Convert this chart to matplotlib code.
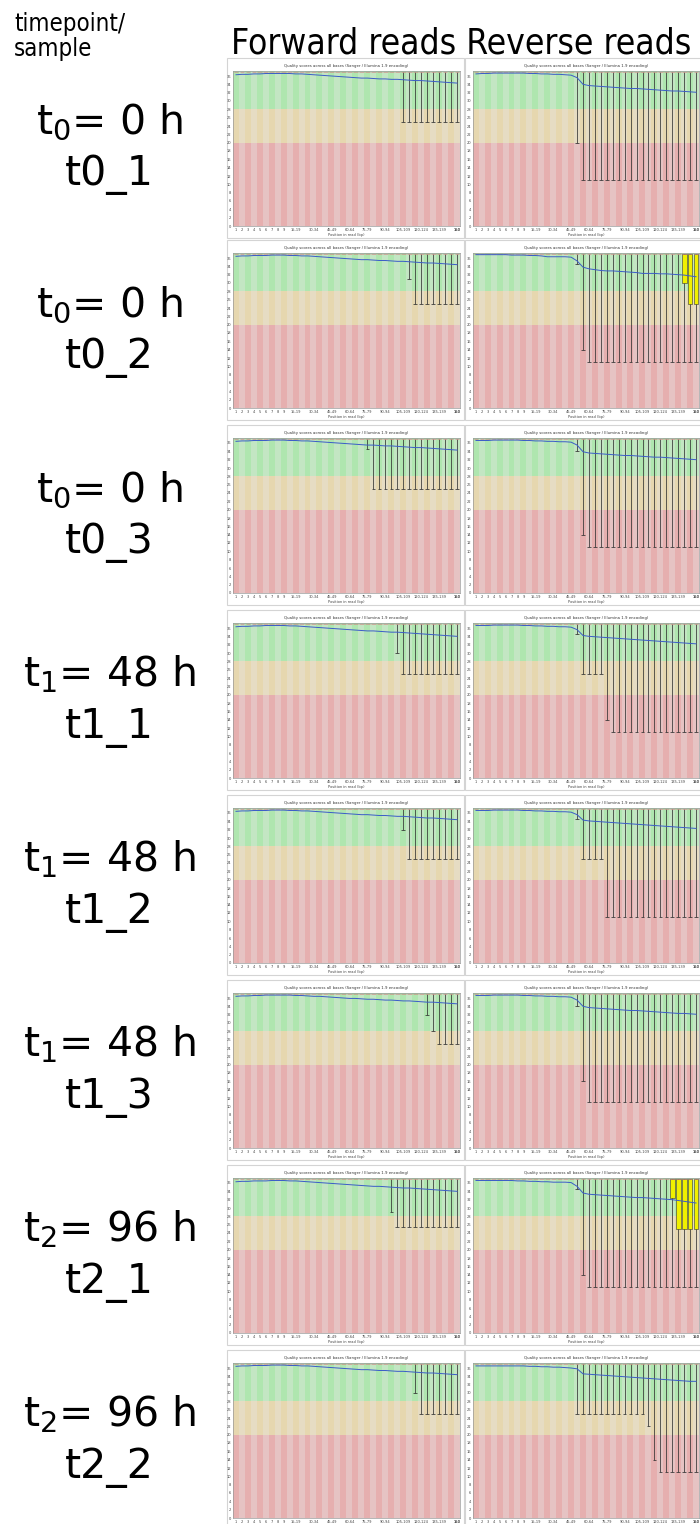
import numpy as np
import matplotlib
matplotlib.use('Agg')
import matplotlib.pyplot as plt
from matplotlib.patches import Rectangle

W, H = 700, 1524

# position bins of the per-base quality plot
bin_labels = [str(i) for i in range(1, 10)] + ['%d-%d' % (s, s + 4) for s in range(10, 150, 5)] + ['150']
tick_idx = list(range(9)) + list(range(10, 38, 3)) + [37]
y_ticks = list(range(0, 37, 2))

timepoints = ['t$_0$= 0 h'] * 3 + ['t$_1$= 48 h'] * 3 + ['t$_2$= 96 h'] * 2
samples = ['t0_1', 't0_2', 't0_3', 't1_1', 't1_2', 't1_3', 't2_1', 't2_2']

# mean quality per bin, forward reads
fwd_mean = [
    [36.3, 36.4, 36.4, 36.5, 36.5, 36.6, 36.6, 36.6, 36.6, 36.6, 36.5, 36.5, 36.4, 36.3, 36.2, 36.1, 36.0, 35.9, 35.8,
     35.7, 35.6, 35.5, 35.5, 35.4, 35.3, 35.3, 35.2, 35.2, 35.1, 35.0, 34.9, 34.9, 34.8, 34.7, 34.6, 34.5, 34.4, 34.3],
    [36.4, 36.5, 36.5, 36.6, 36.6, 36.6, 36.7, 36.7, 36.7, 36.6, 36.6, 36.5, 36.5, 36.4, 36.3, 36.2, 36.1, 36.0, 35.9,
     35.8, 35.7, 35.6, 35.6, 35.5, 35.4, 35.4, 35.3, 35.2, 35.2, 35.1, 35.0, 34.9, 34.8, 34.8, 34.7, 34.6, 34.5, 34.4],
    [36.4, 36.5, 36.5, 36.6, 36.6, 36.6, 36.7, 36.7, 36.7, 36.6, 36.6, 36.5, 36.5, 36.4, 36.3, 36.2, 36.1, 36.0, 35.9,
     35.8, 35.7, 35.6, 35.5, 35.5, 35.4, 35.3, 35.3, 35.2, 35.1, 35.0, 34.9, 34.9, 34.8, 34.7, 34.6, 34.5, 34.4, 34.3],
    [36.3, 36.4, 36.4, 36.5, 36.5, 36.6, 36.6, 36.6, 36.6, 36.5, 36.5, 36.4, 36.3, 36.2, 36.1, 36.0, 35.9, 35.8, 35.7,
     35.6, 35.5, 35.4, 35.3, 35.3, 35.2, 35.1, 35.0, 35.0, 34.9, 34.8, 34.7, 34.6, 34.5, 34.4, 34.3, 34.2, 34.1, 34.0],
    [36.4, 36.5, 36.5, 36.6, 36.6, 36.6, 36.7, 36.7, 36.7, 36.6, 36.6, 36.5, 36.5, 36.4, 36.3, 36.2, 36.1, 36.0, 35.9,
     35.8, 35.7, 35.6, 35.6, 35.5, 35.4, 35.4, 35.3, 35.2, 35.2, 35.1, 35.0, 34.9, 34.8, 34.8, 34.7, 34.6, 34.5, 34.4],
    [36.4, 36.5, 36.5, 36.6, 36.6, 36.7, 36.7, 36.7, 36.7, 36.7, 36.6, 36.6, 36.5, 36.4, 36.4, 36.3, 36.2, 36.1, 36.0,
     35.9, 35.9, 35.8, 35.7, 35.7, 35.6, 35.5, 35.5, 35.4, 35.3, 35.3, 35.2, 35.1, 35.0, 35.0, 34.9, 34.8, 34.7, 34.6],
    [36.3, 36.4, 36.4, 36.5, 36.5, 36.5, 36.6, 36.6, 36.6, 36.5, 36.5, 36.4, 36.3, 36.2, 36.1, 36.0, 35.9, 35.8, 35.7,
     35.6, 35.5, 35.4, 35.3, 35.2, 35.2, 35.1, 35.0, 34.9, 34.8, 34.8, 34.7, 34.6, 34.5, 34.4, 34.3, 34.2, 34.1, 34.0],
    [36.4, 36.5, 36.5, 36.6, 36.6, 36.6, 36.7, 36.7, 36.7, 36.6, 36.6, 36.5, 36.5, 36.4, 36.3, 36.2, 36.1, 36.0, 35.9,
     35.8, 35.7, 35.6, 35.6, 35.5, 35.4, 35.4, 35.3, 35.2, 35.2, 35.1, 35.0, 34.9, 34.8, 34.8, 34.7, 34.6, 34.5, 34.4],
]

# mean quality per bin, reverse reads
rev_mean = [
    [36.5, 36.6, 36.6, 36.7, 36.7, 36.7, 36.7, 36.7, 36.7, 36.6, 36.6, 36.5, 36.5, 36.4, 36.4, 36.3, 36.2, 35.6, 34.0,
     33.7, 33.6, 33.5, 33.4, 33.3, 33.2, 33.1, 33.0, 33.0, 32.9, 32.8, 32.7, 32.6, 32.5, 32.4, 32.4, 32.3, 32.2, 32.1],
    [36.8, 36.8, 36.8, 36.8, 36.8, 36.8, 36.7, 36.7, 36.7, 36.6, 36.6, 36.5, 36.3, 36.3, 36.3, 36.3, 36.2, 35.3, 33.8,
     33.4, 33.2, 33.0, 32.9, 32.9, 32.8, 32.7, 32.6, 32.5, 32.3, 32.3, 32.3, 32.2, 32.2, 32.1, 32.0, 31.9, 31.7, 31.5],
    [36.6, 36.6, 36.6, 36.7, 36.7, 36.7, 36.7, 36.7, 36.6, 36.6, 36.5, 36.5, 36.4, 36.4, 36.3, 36.3, 36.2, 35.5, 33.9,
     33.6, 33.5, 33.4, 33.3, 33.2, 33.1, 33.0, 33.0, 32.9, 32.8, 32.7, 32.6, 32.6, 32.5, 32.4, 32.3, 32.2, 32.1, 32.0],
    [36.6, 36.6, 36.6, 36.7, 36.7, 36.7, 36.7, 36.7, 36.6, 36.6, 36.5, 36.5, 36.4, 36.4, 36.3, 36.3, 36.2, 35.6, 34.2,
     34.0, 33.9, 33.8, 33.7, 33.6, 33.5, 33.4, 33.3, 33.2, 33.1, 33.0, 32.9, 32.8, 32.7, 32.6, 32.5, 32.4, 32.3, 32.2],
    [36.6, 36.6, 36.6, 36.7, 36.7, 36.7, 36.7, 36.7, 36.6, 36.6, 36.5, 36.5, 36.4, 36.4, 36.3, 36.3, 36.2, 35.6, 34.3,
     34.1, 34.0, 33.9, 33.8, 33.7, 33.6, 33.5, 33.4, 33.3, 33.2, 33.1, 33.0, 32.9, 32.8, 32.7, 32.6, 32.5, 32.4, 32.3],
    [36.6, 36.6, 36.6, 36.7, 36.7, 36.7, 36.7, 36.7, 36.6, 36.6, 36.5, 36.5, 36.4, 36.4, 36.3, 36.3, 36.2, 35.5, 34.0,
     33.7, 33.6, 33.5, 33.4, 33.3, 33.2, 33.1, 33.0, 33.0, 32.9, 32.8, 32.7, 32.6, 32.5, 32.4, 32.3, 32.3, 32.2, 32.1],
    [36.6, 36.6, 36.6, 36.6, 36.6, 36.6, 36.6, 36.5, 36.5, 36.4, 36.4, 36.3, 36.3, 36.2, 36.2, 36.2, 36.1, 35.2, 33.6,
     33.3, 33.2, 33.1, 33.0, 32.9, 32.8, 32.7, 32.6, 32.5, 32.5, 32.4, 32.3, 32.2, 32.1, 32.0, 31.8, 31.6, 31.4, 31.2],
    [36.5, 36.5, 36.5, 36.5, 36.5, 36.5, 36.5, 36.5, 36.5, 36.4, 36.4, 36.3, 36.3, 36.2, 36.2, 36.1, 36.0, 35.8, 34.6,
     34.5, 34.4, 34.3, 34.2, 34.1, 34.0, 33.9, 33.8, 33.7, 33.6, 33.5, 33.4, 33.3, 33.2, 33.1, 33.0, 32.9, 32.8, 32.8],
]

# lower whisker ends (first bin, last bin, quality); upper whiskers reach the top
fwd_whiskers = [
    [(28, 37, 25)],
    [(29, 29, 31), (30, 37, 25)],
    [(22, 22, 34.5), (23, 37, 25)],
    [(27, 27, 30), (28, 37, 25)],
    [(28, 28, 32), (29, 37, 25)],
    [(32, 32, 32), (33, 33, 28), (34, 37, 25)],
    [(26, 26, 29), (27, 37, 25.5)],
    [(30, 30, 30), (31, 37, 25)],
]
rev_whiskers = [
    [(17, 17, 20), (18, 37, 11)],
    [(17, 17, 34.5), (18, 18, 14), (19, 37, 11)],
    [(17, 17, 34), (18, 18, 14), (19, 37, 11)],
    [(17, 17, 34.5), (18, 21, 25), (22, 22, 14), (23, 37, 11)],
    [(17, 17, 34.5), (18, 21, 25), (22, 37, 11)],
    [(17, 17, 34), (18, 18, 16), (19, 37, 11)],
    [(17, 17, 34.5), (18, 18, 14), (19, 37, 11)],
    [(17, 28, 25), (29, 29, 22), (30, 30, 14), (31, 37, 11)],
]
# yellow inter-quartile boxes (first bin, last bin, lower, upper)
fwd_boxes = [[] for _ in range(8)]
rev_boxes = [[], [(35, 35, 30, 37), (36, 37, 25, 37)], [], [], [], [],
             [(33, 33, 32.3, 37), (34, 37, 25, 37)], []]

row_tops = [58, 240, 425, 610, 795, 980, 1165, 1350]
label_base = [133, 316, 501, 686, 871, 1056, 1241, 1426]

GOOD = ['#afe6af', '#c3e6c3']
BAD = ['#e6d7af', '#e6dcc3']
UGLY = ['#e6afaf', '#e6c3c3']
YTOP = 37.2


def add_px_axes(fig, x0, y0, x1, y1):
    return fig.add_axes([x0 / W, 1 - y1 / H, (x1 - x0) / W, (y1 - y0) / H])


def draw_panel(ax, mean, whiskers, boxes, xlabel=True):
    n = len(bin_labels)
    x = np.arange(n)
    for lo, hi, cols in [(0, 20, UGLY), (20, 28, BAD), (28, YTOP, GOOD)]:
        ax.bar(x, hi - lo, bottom=lo, width=1.06, color=[cols[i % 2] for i in x], linewidth=0)
    for a, b, low in whiskers:
        for i in range(a, b + 1):
            ax.vlines(i, low, 37, color='#333333', lw=0.55)
            ax.hlines(low, i - 0.3, i + 0.3, color='#333333', lw=0.55)
    for a, b, lo, hi in boxes:
        for i in range(a, b + 1):
            ax.add_patch(Rectangle((i - 0.4, lo), 0.8, hi - lo, facecolor='#f0f000',
                                   edgecolor='#333333', lw=0.4, zorder=3))
    ax.hlines([37] * n, x - 0.4, x + 0.4, color='#d08080', lw=0.4, zorder=4)
    ax.plot(x, mean, color='#3a5cc8', lw=0.7, zorder=5)
    ax.set_xlim(-0.5, n - 0.5)
    ax.set_ylim(0, YTOP)
    ax.set_yticks(y_ticks)
    ax.set_yticklabels([str(v) for v in y_ticks], fontsize=2.6, color='#444444')
    ax.set_xticks(tick_idx)
    ax.set_xticklabels([bin_labels[i] for i in tick_idx], fontsize=2.6, color='#444444')
    ax.tick_params(length=0, pad=1.2)
    for s in ax.spines.values():
        s.set_color('#999999')
        s.set_linewidth(0.5)
    if xlabel:
        ax.set_xlabel('Position in read (bp)', fontsize=2.6, color='#444444', labelpad=1)


fig = plt.figure(figsize=(W / 100, H / 100), dpi=100)

fig.text(14 / W, 1 - 31 / H, 'timepoint/', fontsize=17.2, ha='left', va='baseline', fontstretch='condensed')
fig.text(14 / W, 1 - 56 / H, 'sample', fontsize=17.2, ha='left', va='baseline', fontstretch='condensed')
fig.text(231 / W, 1 - 53 / H, 'Forward reads Reverse reads', fontsize=25.4, ha='left', va='baseline',
         fontstretch='condensed')

for r in range(8):
    top = row_tops[r]
    fig.text(109 / W, 1 - label_base[r] / H, timepoints[r], fontsize=29.5, ha='center', va='baseline',
             math_fontfamily='dejavusans')
    fig.text(109 / W, 1 - (label_base[r] + 52) / H, samples[r], fontsize=29.5, ha='center', va='baseline')
    for c, (fx0, fx1, px0, px1) in enumerate([(227, 464, 233, 460), (465, 706, 473, 699)]):
        fig.patches.append(Rectangle((fx0 / W, 1 - (top + 180) / H), (fx1 - fx0) / W, 180 / H,
                                     transform=fig.transFigure, facecolor='white',
                                     edgecolor='#d4d4d4', lw=0.8, zorder=-1))
        fig.text((px0 + px1) / 2 / W, 1 - (top + 8) / H,
                 'Quality scores across all bases (Sanger / Illumina 1.9 encoding)',
                 fontsize=2.8, ha='center', va='center', color='#333333')
        ax = add_px_axes(fig, px0, top + 13, px1, top + 168)
        if c == 0:
            draw_panel(ax, fwd_mean[r], fwd_whiskers[r], fwd_boxes[r], xlabel=r < 7)
        else:
            draw_panel(ax, rev_mean[r], rev_whiskers[r], rev_boxes[r], xlabel=r < 7)

fig.savefig('out.png', dpi=100)
